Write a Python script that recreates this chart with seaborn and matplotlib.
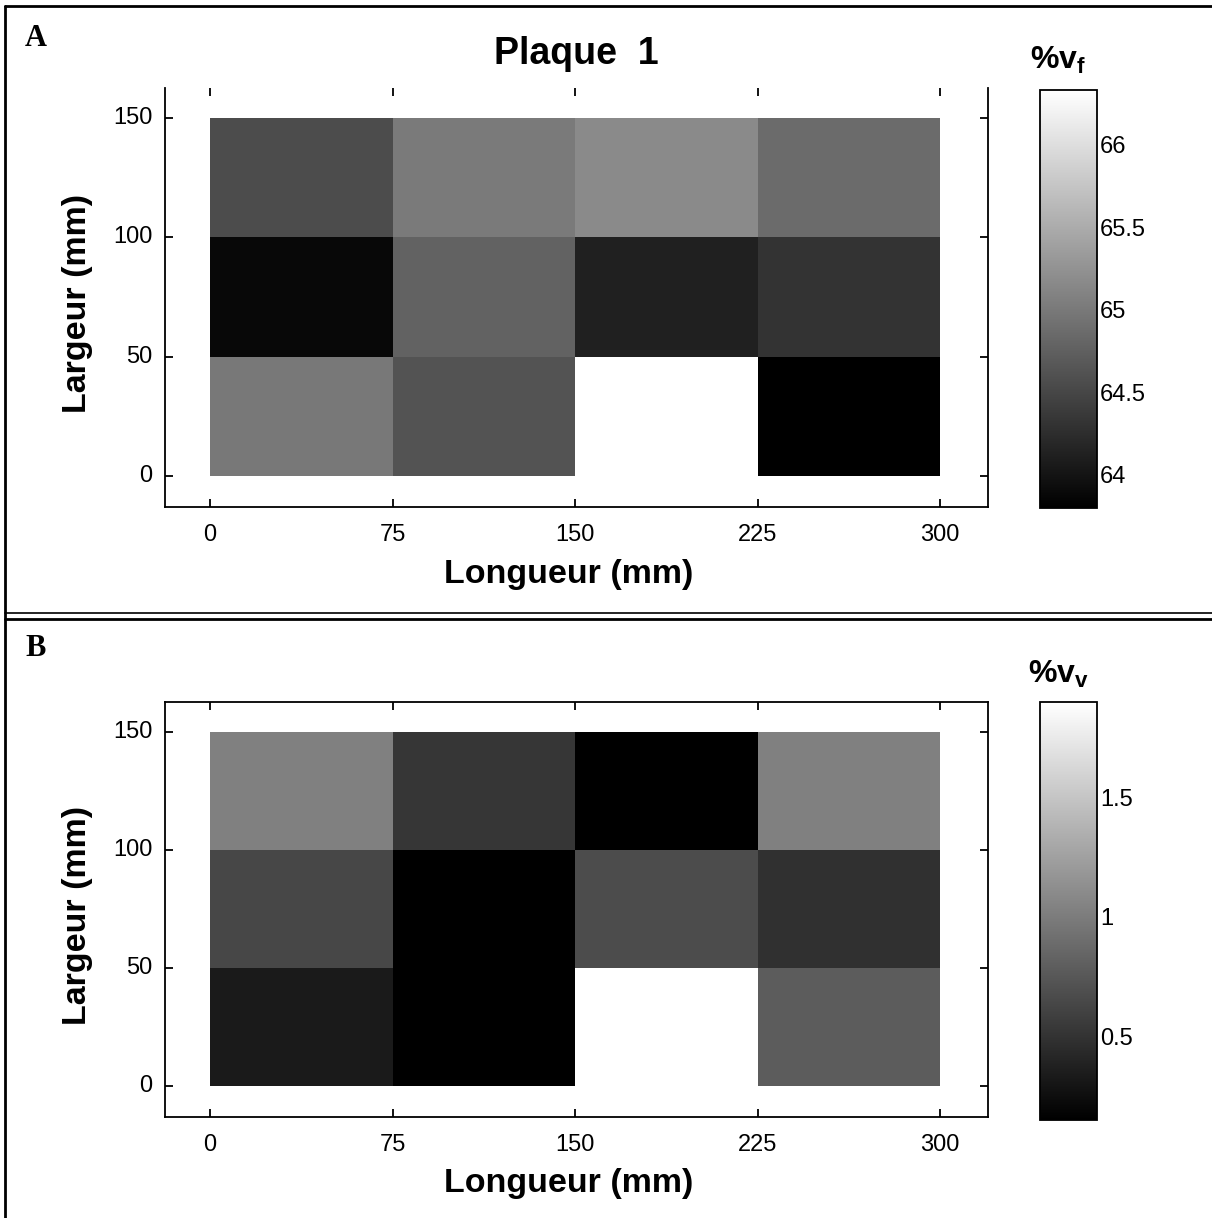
import numpy as np
import matplotlib
matplotlib.use("Agg")
import matplotlib.pyplot as plt
from matplotlib.lines import Line2D
import seaborn as sns

sns.set_style("white")
plt.rcParams['font.family'] = ['Liberation Sans', 'DejaVu Sans']
plt.rcParams['mathtext.fontset'] = 'custom'
plt.rcParams['mathtext.bf'] = 'Liberation Sans:bold'
plt.rcParams['mathtext.rm'] = 'Liberation Sans'
plt.rcParams['text.color'] = 'black'
plt.rcParams['axes.labelcolor'] = 'black'
plt.rcParams['xtick.color'] = 'black'
plt.rcParams['ytick.color'] = 'black'

# Data: rows listed from top (100-150 mm) to bottom (0-50 mm)
longueur_edges = [0, 75, 150, 225, 300]
largeur_edges = [0, 50, 100, 150]

vf_top = [64.56, 65.01, 65.17, 64.86]
vf_mid = [63.88, 64.77, 64.12, 64.31]
vf_bot = [64.99, 64.63, 66.33, 63.80]
vf_range = (63.80, 66.33)
vf_ticks = [64, 64.5, 65, 65.5, 66]

vv_top = [1.03, 0.52, 0.15, 1.03]
vv_mid = [0.64, 0.15, 0.67, 0.48]
vv_bot = [0.33, 0.15, 1.90, 0.78]
vv_range = (0.15, 1.90)
vv_ticks = [0.5, 1, 1.5]

W, H = 1212, 1218
fig = plt.figure(figsize=(W / 100, H / 100), dpi=100)


def fx(px):
    return px / W


def fy(py):
    return 1 - py / H


def panel(ax_box, cb_box, rows, vrange, cticks, clabels, cbtitle, title, top_spine):
    x0, y0, x1, y1 = ax_box
    ax = fig.add_axes([fx(x0), fy(y1), fx(x1 - x0), (y1 - y0) / H])
    cx0, cy0, cx1, cy1 = cb_box
    cax = fig.add_axes([fx(cx0), fy(cy1), fx(cx1 - cx0), (cy1 - cy0) / H])
    data = np.flipud(np.array(rows))  # row 0 = bottom strip
    sns.heatmap(data, ax=ax, cmap="gray", vmin=vrange[0], vmax=vrange[1],
                cbar=True, cbar_ax=cax, linewidths=0)
    nx = len(longueur_edges) - 1
    ny = len(largeur_edges) - 1
    dx = longueur_edges[1] - longueur_edges[0]
    dy = largeur_edges[1] - largeur_edges[0]
    ax.set_xlim(-18.5 / dx, 319.7 / dx)
    ax.set_ylim(-13.0 / dy, 162.5 / dy)
    ax.set_xticks(np.arange(nx + 1))
    ax.set_xticklabels([str(v) for v in longueur_edges], rotation=0)
    ax.set_yticks(np.arange(ny + 1))
    ax.set_yticklabels([str(v) for v in largeur_edges], rotation=0)
    for name, s in ax.spines.items():
        s.set_visible(True)
        s.set_color("black")
        s.set_linewidth(1.3)
    ax.spines["top"].set_visible(top_spine)
    ax.tick_params(axis="x", which="both", direction="in", top=True, bottom=True,
                   length=6, width=1.3, labelsize=17, pad=12, colors="black")
    ax.tick_params(axis="y", which="both", direction="in", left=True, right=True,
                   length=6, width=1.3, labelsize=17, pad=9, colors="black")
    ax.set_xlabel("Longueur (mm)", fontsize=24.5, fontweight="bold", color="black")
    ax.set_ylabel("Largeur (mm)", fontsize=24.5, fontweight="bold", color="black")
    ax.xaxis.set_label_coords(0.49, -0.123)
    ax.yaxis.set_label_coords(-0.088, 0.485)
    if title:
        ax.set_title(title, fontsize=27, fontweight="bold", pad=17, color="black")
    cb = ax.collections[0].colorbar
    cb.outline.set_visible(True)
    cb.outline.set_linewidth(1.3)
    cb.outline.set_edgecolor("black")
    cb.set_ticks(cticks)
    cb.set_ticklabels(clabels)
    cax.tick_params(direction="in", length=5, width=1.3, labelsize=17, pad=2,
                    right=True, left=False, colors="black")
    fig.text(fx(1058), fy(y0 - 28), cbtitle, fontsize=23, ha="center", va="center",
             color="black")
    return ax


panel((165, 88, 988, 507), (1040, 90, 1097, 508), [vf_top, vf_mid, vf_bot],
      vf_range, vf_ticks, ["64", "64.5", "65", "65.5", "66"],
      r"$\mathbf{\%v_f}$", "Plaque  1", False)
panel((165, 702, 988, 1117), (1040, 702, 1097, 1120), [vv_top, vv_mid, vv_bot],
      vv_range, vv_ticks, ["0.5", "1", "1.5"],
      r"$\mathbf{\%v_v}$", None, True)

# Panel frames
lw = 2.0
fig.add_artist(Line2D([fx(5), fx(1212)], [fy(6), fy(6)], color="black", lw=lw))
fig.add_artist(Line2D([fx(5), fx(5)], [fy(6), fy(1218)], color="black", lw=lw))
fig.add_artist(Line2D([fx(5), fx(1212)], [fy(613), fy(613)], color="black", lw=1.2))
fig.add_artist(Line2D([fx(5), fx(1212)], [fy(618.5), fy(618.5)], color="black", lw=lw))

fig.text(fx(36), fy(38), "A", fontsize=22, fontweight="bold", family="Liberation Serif",
         ha="center", va="center", color="black")
fig.text(fx(36), fy(648), "B", fontsize=22, fontweight="bold", family="Liberation Serif",
         ha="center", va="center", color="black")

fig.savefig("out.png", dpi=100)
